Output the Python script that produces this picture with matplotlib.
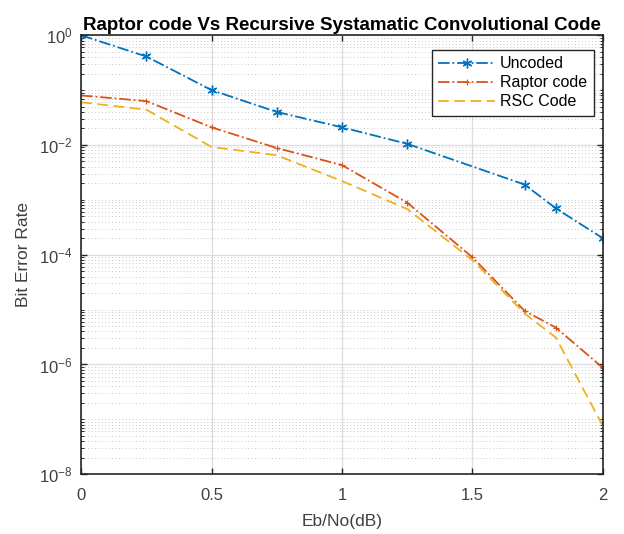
import numpy as np
import matplotlib.pyplot as plt
from matplotlib.ticker import LogLocator, NullFormatter, FixedLocator

plt.rcParams['font.family'] = ['Liberation Sans', 'DejaVu Sans']

# 数据
eb_uncoded = [0, 0.25, 0.5, 0.75, 1.0, 1.25, 1.7, 1.82, 2.0]
ber_uncoded = [1.0, 0.41, 0.1, 0.04, 0.021, 0.0105, 0.0019, 7e-4, 2e-4]

eb_coded = [0, 0.25, 0.5, 0.75, 1.0, 1.25, 1.5, 1.7, 1.82, 2.0]
ber_raptor = [0.08, 0.063, 0.021, 0.0088, 0.0043, 8.9e-4, 9e-5, 9.5e-6, 4.7e-6, 8.7e-7]
ber_rsc = [0.06, 0.044, 0.0092, 0.0065, 0.0022, 6.8e-4, 8e-5, 8.5e-6, 3.1e-6, 7.6e-8]

blue = '#0072BD'
orange = '#D95319'
yellow = '#EDB120'

fig = plt.figure(figsize=(6.24, 5.34), dpi=100)
ax = fig.add_axes([0.13, 0.112, 0.836, 0.822])

ax.semilogy(eb_uncoded, ber_uncoded, '-.', color=blue, lw=1.3,
            marker=(6, 2, 0), ms=7, mew=1.0, label='Uncoded')
ax.semilogy(eb_coded, ber_raptor, '-.', color=orange, lw=1.3,
            marker='+', ms=5, mew=0.8, label='Raptor code')
ax.semilogy(eb_coded, ber_rsc, '--', color=yellow, lw=1.3,
            dashes=(6, 3), label='RSC Code')

ax.set_xlim(0, 2)
ax.set_ylim(1e-8, 1)
ax.xaxis.set_major_locator(FixedLocator([0, 0.5, 1, 1.5, 2]))
ax.set_xticklabels(['0', '0.5', '1', '1.5', '2'])
ax.yaxis.set_major_locator(FixedLocator([1e-8, 1e-6, 1e-4, 1e-2, 1]))
ax.yaxis.set_minor_locator(LogLocator(base=10, subs=np.arange(1, 10), numticks=100))
ax.yaxis.set_minor_formatter(NullFormatter())

ax.grid(True, which='major', color='#dcdcdc', lw=0.9, ls='-')
ax.grid(True, which='minor', axis='y', color='#c8c8c8', lw=0.7, ls=(0, (1, 2.5)))
ax.set_axisbelow(True)

ax.tick_params(which='both', direction='in', top=True, right=True,
               colors='#262626', labelcolor='#404040', labelsize=12)
ax.tick_params(which='major', length=4, width=1.0)
ax.tick_params(which='minor', length=2, width=0.7)
ax.tick_params(axis='x', pad=10)
ax.tick_params(axis='y', pad=6)
for s in ax.spines.values():
    s.set_color('#262626')
    s.set_linewidth(1.2)

ax.set_title('Raptor code Vs Recursive Systamatic Convolutional Code',
             fontsize=13.5, fontweight='bold', pad=4)
ax.set_xlabel('Eb/No(dB)', fontsize=12.5, color='#404040', labelpad=8)
ax.set_ylabel('Bit Error Rate', fontsize=12.5, color='#404040', labelpad=6)

leg = ax.legend(loc='upper right', fontsize=11.5, frameon=True, fancybox=False,
                edgecolor='#262626', framealpha=1, borderpad=0.4,
                handlelength=3.6, handletextpad=0.3, labelspacing=0.25,
                bbox_to_anchor=(0.998, 0.985))
leg.get_frame().set_linewidth(1.0)

fig.savefig('out.png', dpi=100)
